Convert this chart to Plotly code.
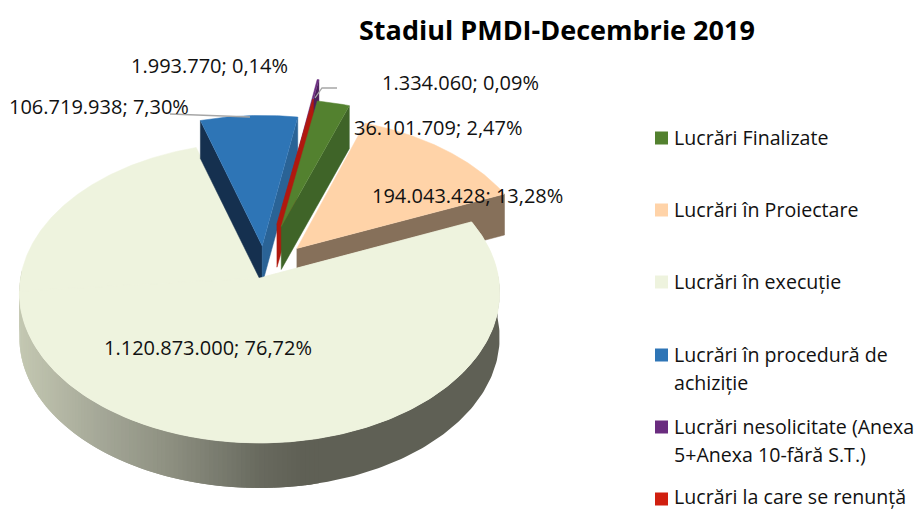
import numpy as np
import plotly.graph_objects as go

categories = ["Lucrări Finalizate", "Lucrări în Proiectare", "Lucrări în execuție",
              "Lucrări în procedură de<br>achiziție",
              "Lucrări nesolicitate (Anexa<br>5+Anexa 10-fără S.T.)",
              "Lucrări la care se renunță"]
values = [36101709, 194043428, 1120873000, 106719938, 1993770, 1334060]
top_colors = ["#53812F", "#FFD3A8", "#EEF3DE", "#2E75B6", "#6A2C7F", "#B1180E"]
legend_colors = ["#53812F", "#FFD3A8", "#EEF3DE", "#2E75B6", "#6A2C7F", "#D01F0F"]
left_face = [None, None, None, "#15304F", None, None]
right_face = ["#3F6428", "#86705A", None, "#2A6396", "#4A1E5A", "#B1180E"]
explode = [0.37, 0.22, 0.0, 0.22, 0.55, 0.38]
nudge_x = [0, 2, 0, 6, 4, 2]
nudge_y = [0, -6, 0, 0, 0, 0]
depths = [43, 41, 45, 38, 30, 43]
label_pos = [(438, 127), (467, 195), (208, 347), (99, 106), (209, 65), (460, 82)]
legend_y = [138, 210, 282, 355, 427, 499]
legend_text_y = [137, 209, 281, 354, 426, 496]
first_angle = 10.3
draw_order = [1, 2, 3, 4, 5, 0]

CX, CY, R, A, K = 259.5, 278, 239, 149, 0.0965
FONT = "Open Sans, Segoe UI, sans-serif"


def project(u, v):
    w = 1 + K * v
    return CX + R * u / w, CY - A * v / w


def fmt(n):
    return f"{n:,}".replace(",", ".")


total = sum(values)
fracs = [v / total for v in values]
starts = first_angle + 360 * np.concatenate([[0], np.cumsum(fracs)[:-1]])
ends = starts + 360 * np.array(fracs)

fig = go.Figure()


def poly(xs, ys, color, width=0.5):
    fig.add_trace(go.Scatter(x=list(xs), y=list(ys), mode="lines", fill="toself",
                             fillcolor=color, line=dict(color=color, width=width),
                             hoverinfo="skip", showlegend=False))


def gradient(x):
    stops_x = [20, 100, 167, 233, 262, 305]
    stops = np.array([[0xC4, 0xC8, 0xB2], [0xA5, 0xA8, 0x98], [0x8F, 0x91, 0x82],
                      [0x74, 0x76, 0x6A], [0x68, 0x69, 0x5E], [0x5F, 0x60, 0x55]])
    c = [np.interp(x, stops_x, stops[:, i]) for i in range(3)]
    return "rgb(%d,%d,%d)" % tuple(c)


for i in draw_order:
    a0, a1 = np.radians(starts[i]), np.radians(ends[i])
    mid = (a0 + a1) / 2
    ou, ov = explode[i] * np.sin(mid), explode[i] * np.cos(mid)
    th = np.linspace(a0, a1, max(3, int(np.degrees(a1 - a0) * 2)))
    rx, ry = project(ou + np.sin(th), ov + np.cos(th))
    rx, ry = rx + nudge_x[i], ry + nudge_y[i]
    ax, ay = project(ou, ov)
    ax, ay = ax + nudge_x[i], ay + nudge_y[i]
    d = depths[i]

    if i == 2:  # large slice: shaded rim, later strips overlap earlier ones
        tt = np.radians(np.arange(88, 274, 1.0))
        sx, sy = project(np.sin(tt), np.cos(tt))
        dark = sx >= 305
        xs = np.concatenate([sx[dark], sx[dark][::-1]])
        ys = np.concatenate([sy[dark], sy[dark][::-1] + d])
        poly(xs, ys, gradient(320), width=0)
        first = int(np.argmax(~dark))
        for j in range(max(first - 4, 0), len(tt) - 1):
            k2 = min(j + 3, len(tt))
            seg_x, seg_y = sx[j:k2], sy[j:k2]
            xs = np.concatenate([seg_x, seg_x[::-1]])
            ys = np.concatenate([seg_y, seg_y[::-1] + d])
            poly(xs, ys, gradient((sx[j] + sx[j + 1]) / 2), width=0)
    if left_face[i]:
        poly([rx[0], rx[0], ax, ax], [ry[0], ry[0] + d, ay + d, ay], left_face[i])
    if right_face[i]:
        poly([rx[-1], rx[-1], ax, ax], [ry[-1], ry[-1] + d, ay + d, ay], right_face[i])
    poly(np.concatenate([[ax], rx, [ax]]), np.concatenate([[ay], ry, [ay]]), top_colors[i])

# front part of the large slice sits over the tips of the pulled-out slices
tt = np.radians(np.linspace(starts[2], 265, 200))
px, py = project(np.sin(tt), np.cos(tt))
ax, ay = project(0, 0)
poly(np.concatenate([[ax], px, [ax]]), np.concatenate([[ay], py, [ay]]), top_colors[2])

# leader lines
for xs, ys in [([170, 250], [114, 117]), ([337, 322, 315], [88, 88, 98])]:
    fig.add_trace(go.Scatter(x=xs, y=ys, mode="lines", line=dict(color="#A6A6A6", width=1.3),
                             hoverinfo="skip", showlegend=False))

# data labels
labels = [f"{fmt(v)}; " + f"{v / total * 100:.2f}".replace(".", ",") + "%" for v in values]
for (lx, ly), t in zip(label_pos, labels):
    fig.add_annotation(x=lx, y=ly, text=t, showarrow=False, xanchor="center", yanchor="middle",
                       font=dict(family=FONT, size=20, color="#111111"))

# legend
fig.add_trace(go.Scatter(x=[661.5] * 6, y=legend_y, mode="markers",
                         marker=dict(symbol="square", size=13, color=legend_colors),
                         hoverinfo="skip", showlegend=False))
for name, ly in zip(categories, legend_text_y):
    for k, line in enumerate(name.split("<br>")):
        fig.add_annotation(x=672, y=ly + k * 28.5, text=line, showarrow=False, xanchor="left",
                           yanchor="middle", align="left",
                           font=dict(family=FONT, size=19.6, color="#111111"))

fig.add_annotation(x=557, y=29, text="<b>Stadiul PMDI-Decembrie 2019</b>", showarrow=False,
                   xanchor="center", yanchor="middle",
                   font=dict(family=FONT, size=27, color="#000000"))

fig.update_layout(width=920, height=509, margin=dict(l=0, r=0, t=0, b=0),
                  paper_bgcolor="white", plot_bgcolor="white", showlegend=False,
                  xaxis=dict(range=[0, 920], visible=False, fixedrange=True),
                  yaxis=dict(range=[509, 0], visible=False, fixedrange=True))
fig.write_html("out.html", config={"displayModeBar": False},
               post_script="document.body.style.margin='0';document.documentElement.style.overflow='hidden';")
